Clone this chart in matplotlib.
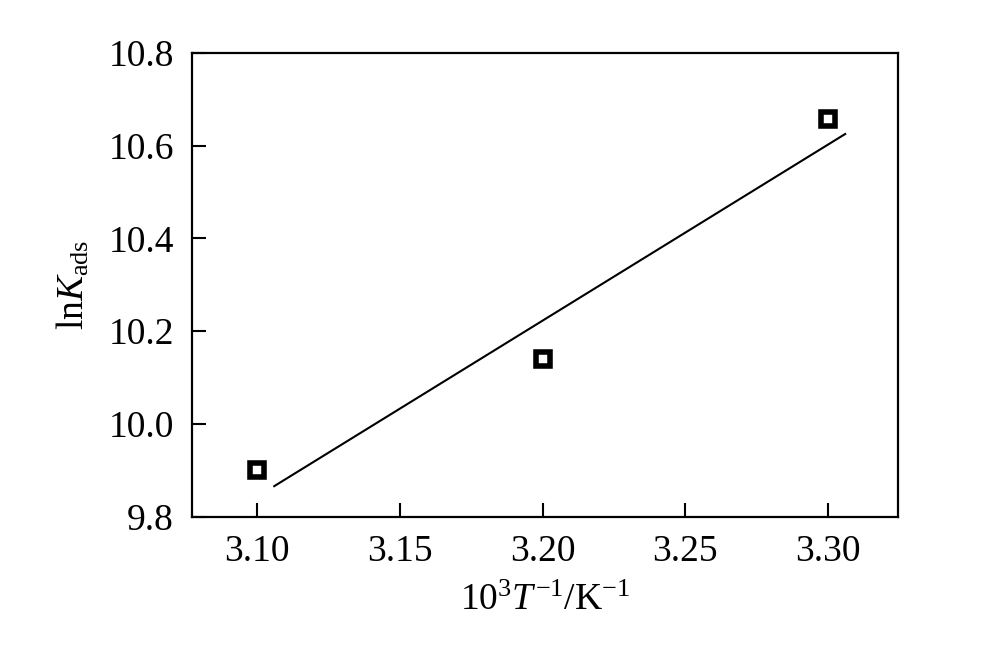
import numpy as np
import matplotlib
matplotlib.use("Agg")
import matplotlib.pyplot as plt

# data
inv_T = [3.10, 3.20, 3.30]           # 10^3 T^-1 / K^-1
ln_K = [9.901, 10.140, 10.658]       # ln K_ads

# fitted straight line (end points)
fit_x = [3.106, 3.306]
fit_y = [9.866, 10.625]

x_ticks = [3.10, 3.15, 3.20, 3.25, 3.30]
y_ticks = [9.8, 10.0, 10.2, 10.4, 10.6, 10.8]

plt.rcParams['font.family'] = ['Liberation Serif', 'DejaVu Serif']
plt.rcParams['mathtext.fontset'] = 'custom'
plt.rcParams['mathtext.rm'] = 'Liberation Serif'
plt.rcParams['mathtext.it'] = 'Liberation Serif:italic'

fig = plt.figure(figsize=(10, 6.6), dpi=100)
ax = fig.add_axes([0.192, 0.217, 0.706, 0.703])

ax.plot(fit_x, fit_y, color='black', lw=1.5)
ax.plot(inv_T, ln_K, linestyle='none', marker='s', ms=10,
        mfc='white', mec='black', mew=4)

ax.set_xlim(3.0772, 3.3245)
ax.set_ylim(9.8, 10.8)
ax.set_xticks(x_ticks)
ax.set_xticklabels([f"{v:.2f}" for v in x_ticks])
ax.set_yticks(y_ticks)
ax.set_yticklabels([f"{v:.1f}" for v in y_ticks])

ax.tick_params(direction='in', length=10, width=1.5, labelsize=27,
               pad=13, top=False, right=False)
for s in ax.spines.values():
    s.set_linewidth(1.6)

ax.set_xlabel(r'$\mathrm{10^3}T^{-1}/\mathrm{K}^{-1}$', fontsize=27, labelpad=10)
ax.set_ylabel(r'$\mathrm{ln}K_{\mathrm{ads}}$', fontsize=27, labelpad=12)

fig.savefig('out.png', dpi=100)
